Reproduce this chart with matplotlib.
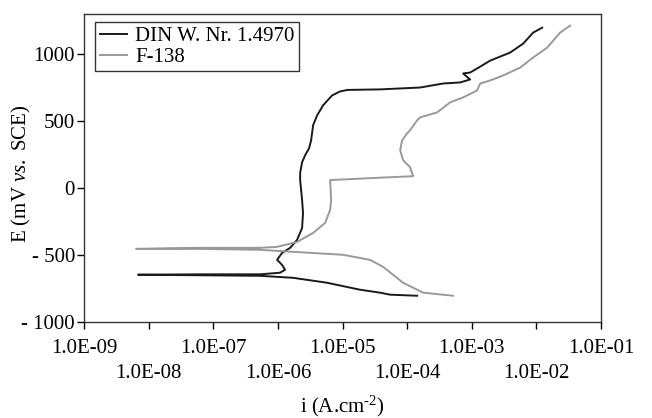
import matplotlib
matplotlib.use("Agg")
import matplotlib.pyplot as plt
from matplotlib.ticker import FixedLocator, FixedFormatter

plt.rcParams['font.family'] = ['Liberation Serif', 'DejaVu Serif']
plt.rcParams['mathtext.fontset'] = 'custom'
plt.rcParams['mathtext.rm'] = 'Liberation Serif'
plt.rcParams['mathtext.it'] = 'Liberation Serif:italic'

# ---- data (current density A/cm2, potential mV vs SCE) ----
din_i = [1.43e-4, 5.46e-5, 3.82e-5, 1.87e-5, 5.78e-6, 1.72e-6, 5.30e-7, 6.25e-8, 6.86e-9,
         6.25e-8, 5.30e-7, 1.08e-6, 1.29e-6, 1.16e-6, 9.72e-7, 1.16e-6, 1.55e-6, 1.98e-6,
         2.37e-6, 2.45e-6, 2.37e-6, 2.21e-6, 2.21e-6, 2.37e-6, 2.64e-6, 3.04e-6, 3.27e-6,
         3.51e-6, 4.05e-6, 5.01e-6, 6.90e-6, 9.18e-6, 1.20e-5, 3.82e-5, 1.59e-4, 3.61e-4, 6.61e-4,
         9.44e-4, 7.36e-4, 9.44e-4, 1.21e-3, 1.93e-3, 3.93e-3, 6.25e-3, 8.91e-3, 1.23e-2]
din_E = [-804, -796, -781, -759, -707, -670, -655, -651, -647,
         -644, -644, -632, -610, -573, -536, -484, -446, -387,
         -298, -186, -89, 60, 112, 193, 245, 298, 357,
         469, 543, 618, 692, 722, 733, 737, 751, 781, 789,
         811, 856, 863, 893, 952, 1012, 1079, 1161, 1198]

f138_i = [5.15e-4, 1.77e-4, 8.67e-5, 4.25e-5, 2.67e-5, 1.02e-5, 1.72e-6, 5.30e-7, 6.25e-8, 6.38e-9,
          6.25e-8, 5.30e-7, 9.72e-7, 1.98e-6, 3.51e-6, 5.38e-6, 6.43e-6, 6.67e-6, 6.43e-6,
          2.67e-5, 1.24e-4, 1.11e-4, 8.67e-5, 7.80e-5, 8.38e-5, 1.00e-4, 1.11e-4, 1.43e-4,
          1.59e-4, 2.91e-4, 4.63e-4, 7.36e-4, 1.21e-3, 1.35e-3, 1.93e-3, 3.06e-3, 5.61e-3,
          8.91e-3, 1.47e-2, 2.33e-2, 3.33e-2]
f138_E = [-804, -781, -707, -588, -536, -498, -476, -461, -454, -454,
          -446, -446, -439, -402, -335, -260, -164, -89, 60,
          74, 89, 156, 208, 283, 357, 409, 432, 506,
          528, 565, 640, 677, 729, 781, 804, 841, 900,
          975, 1049, 1161, 1213]

series_labels = ["DIN W. Nr. 1.4970", "F-138"]
x_major = [1e-9, 1e-7, 1e-5, 1e-3, 1e-1]
x_major_labels = ["1.0E-09", "1.0E-07", "1.0E-05", "1.0E-03", "1.0E-01"]
x_minor = [1e-8, 1e-6, 1e-4, 1e-2]
x_minor_labels = ["1.0E-08", "1.0E-06", "1.0E-04", "1.0E-02"]
y_ticks = [-1000, -500, 0, 500, 1000]
y_tick_labels = ["- 1000", "- 500", "0", "500", "1000"]

fig = plt.figure(figsize=(6.52, 4.18), dpi=100)
ax = fig.add_axes([84/652, 1-322/418, 517/652, 308/418])

ax.plot(din_i, din_E, color='#1a1a1a', lw=1.4, label=series_labels[0])
ax.plot(f138_i, f138_E, color='#999999', lw=1.4, label=series_labels[1])

ax.set_xscale('log')
ax.set_xlim(1e-9, 1e-1)
ax.set_ylim(-1000, 1300)

ax.xaxis.set_major_locator(FixedLocator(x_major))
ax.xaxis.set_major_formatter(FixedFormatter(x_major_labels))
ax.xaxis.set_minor_locator(FixedLocator(x_minor))
ax.xaxis.set_minor_formatter(FixedFormatter(x_minor_labels))
ax.set_yticks(y_ticks)
ax.set_yticklabels(y_tick_labels)

ax.tick_params(axis='x', which='major', direction='out', length=5, width=1, labelsize=15, pad=7.5)
ax.tick_params(axis='x', which='minor', direction='out', length=5, width=1, labelsize=15, pad=25.5)
ax.tick_params(axis='y', direction='out', length=5, width=1, labelsize=15, pad=1.5)

for s in ax.spines.values():
    s.set_color('#333333')
    s.set_linewidth(1.0)

ax.set_xlabel(r"i (A.cm$^{\text{-2}}$)", fontsize=15)
ax.xaxis.set_label_coords(0.5, (322-394)/308)
ax.set_ylabel(r"E (mV $\it{vs.}$ SCE)", fontsize=15)
ax.yaxis.set_label_coords((33-84)/517, (322-174)/308)

leg = ax.legend(loc='upper left', bbox_to_anchor=(11/517, 1-8/308), borderaxespad=0,
                fontsize=15, frameon=True, fancybox=False, edgecolor='black',
                handlelength=1.3, handletextpad=0.4, labelspacing=0.05, borderpad=0.22)
leg.get_frame().set_linewidth(1.0)

fig.savefig("out.png", dpi=100)
